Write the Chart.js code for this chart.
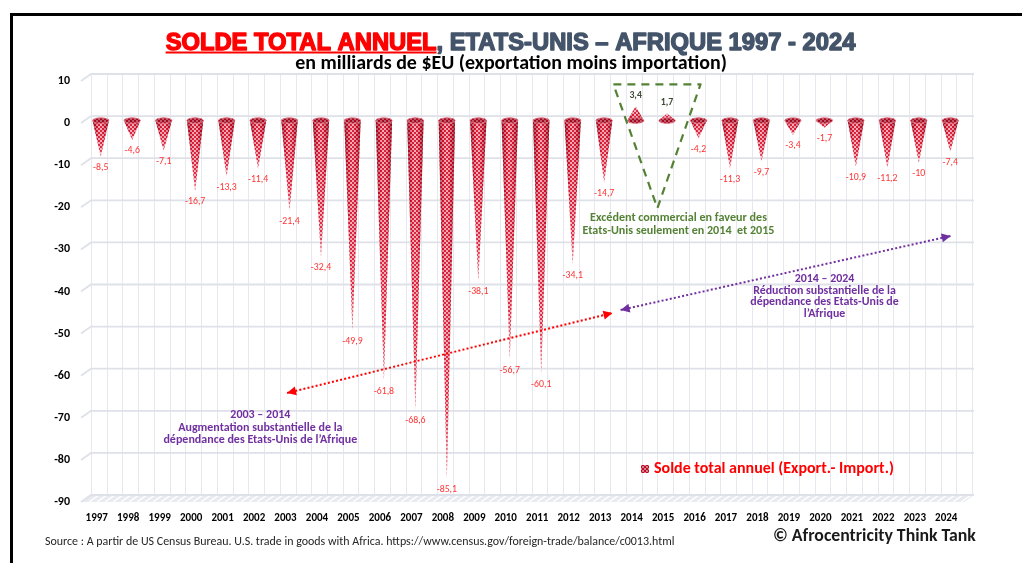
<!DOCTYPE html>
<html><head><meta charset="utf-8">
<script src="https://cdn.jsdelivr.net/npm/chart.js@4.4.1/dist/chart.umd.min.js"></script>
<style>
html,body{margin:0;padding:0;background:#fff;overflow:hidden}
#wrap{position:relative;width:1022px;height:563px;background:#fff}
canvas{position:absolute;left:0;top:0;z-index:1}
#ftop{position:absolute;left:10px;top:13px;width:1012px;height:3px;background:#000;z-index:2}
#fleft{position:absolute;left:10px;top:13px;width:3px;height:550px;background:#000;z-index:2}
</style></head><body>
<div id="wrap"><canvas id="c" width="1022" height="563"></canvas><div id="ftop"></div><div id="fleft"></div></div>
<script>
// ---------------- DATA ----------------
const years = ['1997','1998','1999','2000','2001','2002','2003','2004','2005','2006','2007','2008','2009','2010','2011','2012','2013','2014','2015','2016','2017','2018','2019','2020','2021','2022','2023','2024'];
const balance = [-8.5,-4.6,-7.1,-16.7,-13.3,-11.4,-21.4,-32.4,-49.9,-61.8,-68.6,-85.1,-38.1,-56.7,-60.1,-34.1,-14.7,3.4,1.7,-4.2,-11.3,-9.7,-3.4,-1.7,-10.9,-11.2,-10,-7.4];
const yTicks = [10,0,-10,-20,-30,-40,-50,-60,-70,-80,-90];
const titleRed = 'SOLDE TOTAL ANNUEL';
const titleRest = ', ETATS-UNIS – AFRIQUE 1997 - 2024';
const subtitle = 'en milliards de $EU (exportation moins importation)';
const legendLabel = 'Solde total annuel (Export.- Import.)';
const noteSurplus = ['Excédent commercial en faveur des', 'Etats-Unis seulement en 2014  et 2015'];
const noteRise = ['2003 – 2014', 'Augmentation substantielle de la', 'dépendance des Etats-Unis de l’Afrique'];
const noteFall = ['2014 – 2024', 'Réduction substantielle de la', 'dépendance des Etats-Unis de', 'l’Afrique'];
const sourceText = 'Source : A partir de US Census Bureau. U.S. trade in goods with Africa. https://www.census.gov/foreign-trade/balance/c0013.html';
const copyrightText = '© Afrocentricity Think Tank';

// ---------------- STYLE ----------------
const F = 'Carlito, Lato, "Open Sans", sans-serif';
const FT = '"Liberation Sans", Arial, sans-serif';
const DX = 10, DY = -7;       // 3D back-wall offset
const BX = 4, BY = -2.5;      // cones sit mid-depth
const fmt = v => String(v).replace('.', ',');

function fitSize(ctx, text, weight, family, target) {
  ctx.font = `${weight} 100px ${family}`;
  return 100 * target / ctx.measureText(text).width;
}
function setFont(ctx, weight, size, family){ ctx.font = `${weight} ${size}px ${family}`; }

// checker pattern
const pc = document.createElement('canvas'); pc.width = 4; pc.height = 4;
const pcx = pc.getContext('2d');
pcx.fillStyle = '#d8102a'; pcx.fillRect(0,0,4,4);
pcx.fillStyle = '#f6a9b6'; pcx.fillRect(0,0,2,2); pcx.fillRect(2,2,2,2);

const bgPlugin = {
  id: 'bg3d',
  beforeDatasetsDraw(chart) {
    const {ctx, chartArea: a, scales: {x, y}} = chart;
    ctx.save();
    const n = years.length, w = (a.right - a.left) / n;
    const yTop = y.getPixelForValue(yTicks[0]), yBot = y.getPixelForValue(yTicks[yTicks.length-1]);
    // floor band
    ctx.fillStyle = '#e8eaef';
    ctx.beginPath();
    ctx.moveTo(a.left, yBot); ctx.lineTo(a.left+DX, yBot+DY); ctx.lineTo(a.right+DX+2, yBot+DY); ctx.lineTo(a.right+2, yBot); ctx.closePath(); ctx.fill();
    ctx.save(); ctx.clip();
    ctx.strokeStyle = '#ffffff'; ctx.lineWidth = 1.5;
    for (let xx = a.left; xx < a.right + 20; xx += 8) { ctx.beginPath(); ctx.moveTo(xx, yBot); ctx.lineTo(xx+DX, yBot+DY); ctx.stroke(); }
    ctx.restore();
    // vertical grid lines (back wall)
    ctx.strokeStyle = '#e6e8ee'; ctx.lineWidth = 1;
    for (let k = 0; k <= 2*n; k++) {
      const xx = Math.round(a.left + k*w/2 + DX) + 0.5;
      ctx.beginPath(); ctx.moveTo(xx, yTop+DY); ctx.lineTo(xx, yBot+DY); ctx.stroke();
    }
    // horizontal grid lines
    ctx.strokeStyle = '#dfe1e8'; ctx.lineWidth = 1.8;
    yTicks.forEach(v => {
      const py = y.getPixelForValue(v);
      ctx.beginPath(); ctx.moveTo(a.left, py); ctx.lineTo(a.left+DX, py+DY); ctx.lineTo(a.right+DX+2, py+DY); ctx.stroke();
    });
    ctx.restore();
  }
};

const conePlugin = {
  id: 'cones',
  afterDatasetsDraw(chart) {
    const {ctx} = chart;
    const meta = chart.getDatasetMeta(0);
    const pat = ctx.createPattern(pc, 'repeat');
    ctx.save();
    meta.data.forEach((el, i) => {
      const v = balance[i];
      const cx = el.x + BX, b = el.base + BY, t = el.y + BY, h = el.width / 2, ry = 2.8;
      // body
      ctx.beginPath();
      ctx.moveTo(cx - h, b); ctx.lineTo(cx, t); ctx.lineTo(cx + h, b);
      ctx.ellipse(cx, b, h, ry, 0, 0, Math.PI, v < 0);
      ctx.closePath();
      ctx.fillStyle = pat; ctx.fill();
      const gh = ctx.createLinearGradient(cx - h, 0, cx + h, 0);
      gh.addColorStop(0, 'rgba(100,0,15,0.65)');
      gh.addColorStop(0.3, 'rgba(160,0,25,0.15)');
      gh.addColorStop(0.45, 'rgba(255,255,255,0.08)');
      gh.addColorStop(0.7, 'rgba(160,0,25,0.2)');
      gh.addColorStop(1, 'rgba(100,0,15,0.65)');
      ctx.fillStyle = gh; ctx.fill();
      const gv = ctx.createLinearGradient(0, b, 0, t);
      gv.addColorStop(0, 'rgba(255,255,255,0)');
      gv.addColorStop(0.8, 'rgba(255,255,255,0.05)');
      gv.addColorStop(1, 'rgba(255,255,255,0.5)');
      ctx.fillStyle = gv; ctx.fill();
      // top ellipse
      ctx.beginPath(); ctx.ellipse(cx, b, h, ry, 0, 0, Math.PI*2);
      ctx.fillStyle = pat; ctx.fill();
      ctx.fillStyle = 'rgba(110,0,20,0.45)'; ctx.fill();
      ctx.strokeStyle = 'rgba(235,130,145,0.95)'; ctx.lineWidth = 0.9; ctx.stroke();
      // value label
      ctx.textAlign = 'center'; ctx.textBaseline = 'middle';
      if (v < 0) { setFont(ctx, 'normal', 9.8, F); ctx.fillStyle = '#ff3333'; ctx.fillText(fmt(v), cx, t + 11); }
      else { setFont(ctx, 'bold', 9.8, F); ctx.fillStyle = '#3d4b35'; ctx.fillText(fmt(v), cx, t - 11); }
    });
    ctx.restore();
  }
};

function arrowHead(ctx, x1, y1, x2, y2, color) {
  const ang = Math.atan2(y2 - y1, x2 - x1), L = 9, W = 4.5;
  ctx.fillStyle = color;
  ctx.beginPath();
  ctx.moveTo(x2, y2);
  ctx.lineTo(x2 - L*Math.cos(ang) + W*Math.sin(ang), y2 - L*Math.sin(ang) - W*Math.cos(ang));
  ctx.lineTo(x2 - L*Math.cos(ang) - W*Math.sin(ang), y2 - L*Math.sin(ang) + W*Math.cos(ang));
  ctx.closePath(); ctx.fill();
}
function dblArrow(ctx, p1, p2, color) {
  ctx.save();
  ctx.strokeStyle = color; ctx.lineWidth = 2; ctx.setLineDash([2, 2.2]);
  ctx.beginPath(); ctx.moveTo(p1[0], p1[1]); ctx.lineTo(p2[0], p2[1]); ctx.stroke();
  ctx.setLineDash([]);
  arrowHead(ctx, p1[0], p1[1], p2[0], p2[1], color);
  arrowHead(ctx, p2[0], p2[1], p1[0], p1[1], color);
  ctx.restore();
}
function textBlock(ctx, lines, refIdx, refWidth, cx, cy0, lh, color) {
  const s = fitSize(ctx, lines[refIdx], 'bold', F, refWidth);
  setFont(ctx, 'bold', s, F);
  ctx.fillStyle = color; ctx.textAlign = 'center'; ctx.textBaseline = 'middle';
  lines.forEach((l, k) => ctx.fillText(l, cx, cy0 + k*lh));
}

const annoPlugin = {
  id: 'anno',
  afterDraw(chart) {
    const {ctx, scales: {x, y}} = chart;
    const P = (i, v) => [x.getPixelForValue(i), y.getPixelForValue(v)];
    ctx.save();
    // title
    const tSize = fitSize(ctx, titleRed + titleRest, 'bold', FT, 690);
    setFont(ctx, 'bold', tSize, FT);
    const wRed = ctx.measureText(titleRed).width, wAll = ctx.measureText(titleRed + titleRest).width;
    const tx = 510.5 - wAll/2, ty = 50;
    ctx.textAlign = 'left'; ctx.textBaseline = 'alphabetic';
    ctx.lineWidth = 1.4; ctx.lineJoin = 'round';
    ctx.fillStyle = '#ff0000'; ctx.strokeStyle = '#ff0000';
    ctx.fillText(titleRed, tx, ty); ctx.strokeText(titleRed, tx, ty);
    ctx.fillRect(tx, ty + 1.5, wRed, 2);
    ctx.fillStyle = '#44546a'; ctx.strokeStyle = '#44546a';
    ctx.fillText(titleRest, tx + wRed, ty); ctx.strokeText(titleRest, tx + wRed, ty);
    // subtitle
    const sSize = fitSize(ctx, subtitle, 'bold', F, 432);
    setFont(ctx, 'bold', sSize, F);
    ctx.fillStyle = '#000'; ctx.textAlign = 'center'; ctx.textBaseline = 'middle';
    ctx.fillText(subtitle, 511, 64);
    // green dashed triangle
    const a1 = P(16.42, 9.2), a2 = P(19.19, 9.2), a3 = P(17.82, -20.2);
    ctx.strokeStyle = '#548235'; ctx.lineWidth = 2.2; ctx.setLineDash([8, 6]);
    ctx.beginPath(); ctx.moveTo(a1[0], a1[1]); ctx.lineTo(a2[0], a2[1]); ctx.lineTo(a3[0], a3[1]); ctx.closePath(); ctx.stroke();
    ctx.setLineDash([]);
    const g0 = P(18.49, -22.57);
    textBlock(ctx, noteSurplus, 1, 192, g0[0], g0[1], 13, '#548235');
    // arrows
    dblArrow(ctx, P(6.05, -64.1), P(16.39, -45.1), '#ff0000');
    dblArrow(ctx, P(16.65, -44.4), P(27.14, -26.8), '#7030a0');
    const f0 = P(23.13, -37.05);
    textBlock(ctx, noteFall, 1, 143, f0[0], f0[1], 11.7, '#7030a0');
    const r0 = P(5.2, -69.4);
    textBlock(ctx, noteRise, 2, 194, r0[0], r0[1], 12.5, '#7030a0');
    // legend
    ctx.fillStyle = ctx.createPattern(pc, 'repeat');
    ctx.fillRect(641, 465, 8, 8);
    ctx.fillStyle = 'rgba(120,0,20,0.25)'; ctx.fillRect(641, 465, 8, 8);
    const lSize = fitSize(ctx, legendLabel, 'bold', F, 240);
    setFont(ctx, 'bold', lSize, F);
    ctx.fillStyle = '#ff0000'; ctx.textAlign = 'left'; ctx.textBaseline = 'middle';
    ctx.fillText(legendLabel, 654, 469);
    // source + copyright
    const srcSize = fitSize(ctx, sourceText, 'normal', F, 630);
    setFont(ctx, 'normal', srcSize, F);
    ctx.fillStyle = '#262626'; ctx.textAlign = 'left';
    ctx.fillText(sourceText, 45, 542);
    const cSize = fitSize(ctx, copyrightText, 'bold', F, 203);
    setFont(ctx, 'bold', cSize, F);
    ctx.fillStyle = '#1a1a1a';
    ctx.fillText(copyrightText, 773, 537);
    // frame (also on canvas)
    ctx.fillStyle = '#000';
    ctx.fillRect(10, 13, 3, 550);
    ctx.fillRect(10, 13, 1012, 3);
    ctx.restore();
  }
};

new Chart(document.getElementById('c'), {
  type: 'bar',
  data: { labels: years, datasets: [{ label: legendLabel, data: balance, backgroundColor: 'rgba(0,0,0,0)', borderWidth: 0, barPercentage: 0.52, categoryPercentage: 1 }] },
  options: {
    responsive: false, animation: false, devicePixelRatio: 1,
    layout: { padding: { left: 10, right: 60, top: 81, bottom: 31 } },
    plugins: { legend: { display: false }, tooltip: { enabled: false }, title: { display: false } },
    scales: {
      x: {
        grid: { display: false, drawTicks: false }, border: { display: false },
        ticks: { font: { family: F, weight: 'bold', size: 11 }, color: '#000', padding: 10, maxRotation: 0, autoSkip: false },
        afterFit(s) { s.height = 30; }
      },
      y: {
        min: -90, max: 10,
        grid: { display: false, drawTicks: false }, border: { display: false },
        ticks: { font: { family: F, weight: 'bold', size: 12 }, color: '#000', padding: 11 },
        afterBuildTicks(s) { s.ticks = yTicks.map(v => ({ value: v })); },
        afterFit(s) { s.width = 71; }
      }
    }
  },
  plugins: [bgPlugin, conePlugin, annoPlugin]
});
</script>
</body></html>
